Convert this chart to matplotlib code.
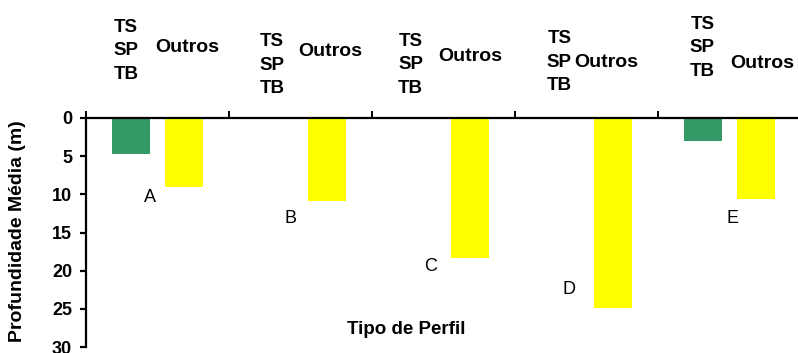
import numpy as np
import matplotlib
matplotlib.use("Agg")
import matplotlib.pyplot as plt

# Data: mean depth per profile type
grupos = ["A", "B", "C", "D", "E"]
ts_sp_tb = [4.7, 0, 0, 0, 3.0]
outros = [9.0, 10.9, 18.3, 24.9, 10.6]
y_ticks = [0, 5, 10, 15, 20, 25, 30]

# Label placement (x in group units, y in depth units)
letra_x = [0.95, 1.93, 2.91, 3.88, 5.02]
letra_y = [10.4, 13.2, 19.5, 22.5, 13.2]
ts_x = [0.78, 1.80, 2.77, 3.81, 4.81]
ts_y = [-8.8, -6.9, -7.0, -7.3, -9.2]
out_x = [1.21, 2.21, 3.19, 4.14, 5.23]
out_y = [-9.2, -8.7, -8.0, -7.3, -7.1]

plt.rcParams['font.family'] = ['Liberation Sans', 'DejaVu Sans']

fig = plt.figure(figsize=(7.98, 3.53), dpi=100)
ax = fig.add_axes([86/798, 6/353, 715/798, 229/353])

x = np.arange(1, len(grupos) + 1)
w = 0.266
ax.bar(x - 0.182, ts_sp_tb, width=w, color="#339966")
ax.bar(x + 0.182, outros, width=w, color="#ffff00")

ax.set_xlim(0.5, 5.5)
ax.set_ylim(30, 0)
ax.set_yticks(y_ticks)
ax.set_yticklabels([str(v) for v in y_ticks], fontsize=13, fontweight="bold")

# x axis sits on top (depth = 0), ticks only at group boundaries
ax.xaxis.tick_top()
ax.set_xticks(np.arange(0.5, 6.0, 1.0))
ax.set_xticklabels([])
ax.spines["right"].set_visible(False)
ax.spines["bottom"].set_visible(False)
ax.spines["left"].set_linewidth(1.6)
ax.spines["top"].set_linewidth(1.6)
ax.tick_params(axis="y", direction="out", length=4, width=1.6, pad=6)
ax.tick_params(axis="x", direction="out", length=5, width=1.4)

for i in range(len(grupos)):
    ax.text(letra_x[i], letra_y[i], grupos[i], fontsize=13, ha="center", va="center")
    ax.text(ts_x[i], ts_y[i], "TS\nSP\nTB", fontsize=13.5, fontweight="bold",
            ha="center", va="center", linespacing=1.5, clip_on=False)
    ax.text(out_x[i], out_y[i], "Outros", fontsize=14, fontweight="bold",
            ha="center", va="center", clip_on=False)

fig.text(406/798, 1 - 330/353, "Tipo de Perfil", fontsize=13.5, fontweight="bold",
         ha="center", va="center")
fig.text(18/798, 1 - 231/353, "Profundidade Média (m)", fontsize=14, fontweight="bold",
         ha="center", va="center", rotation=90)

fig.savefig("out.png", dpi=100)
